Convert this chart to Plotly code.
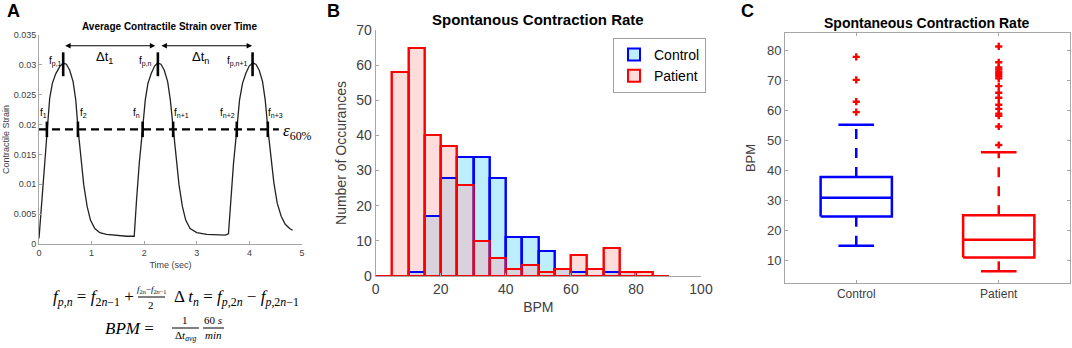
import plotly.graph_objects as go

# ---------------- Panel A data ----------------
time_s = [0, 0.044, 0.089, 0.152, 0.203, 0.254, 0.318, 0.394, 0.457, 0.521, 0.584, 0.648, 0.699, 0.743,
          0.794, 0.851, 0.915, 0.978, 1.061, 1.156, 1.283, 1.474, 1.665, 1.792,
          1.81, 1.855, 1.906, 1.969, 2.02, 2.071, 2.135, 2.198, 2.255, 2.319, 2.382, 2.446, 2.497, 2.554,
          2.605, 2.662, 2.726, 2.789, 2.872, 2.999, 3.189, 3.38, 3.539, 3.602,
          3.647, 3.698, 3.761, 3.812, 3.869, 3.933, 3.996, 4.06, 4.123, 4.187, 4.25, 4.301, 4.352,
          4.409, 4.466, 4.53, 4.606, 4.682, 4.765, 4.822]
strain = [0.00095, 0.00625, 0.0118, 0.0191, 0.0244, 0.0269, 0.0285, 0.0297, 0.0303, 0.0301, 0.0291, 0.0272, 0.0241, 0.0192,
          0.0146, 0.0099, 0.0063, 0.0040, 0.0026, 0.0019, 0.0016, 0.0014, 0.0013, 0.0013,
          0.0013, 0.0074, 0.0135, 0.0192, 0.0241, 0.0269, 0.0286, 0.0298, 0.0303, 0.0301, 0.0291, 0.0272, 0.0241, 0.0192,
          0.0146, 0.0099, 0.0063, 0.0040, 0.0026, 0.0019, 0.0016, 0.0015, 0.0015, 0.0017,
          0.0074, 0.0135, 0.0192, 0.0241, 0.0269, 0.0286, 0.0298, 0.0303, 0.0301, 0.0291, 0.0272, 0.0241, 0.0192,
          0.0146, 0.0102, 0.0068, 0.0046, 0.0033, 0.0026, 0.0023]
threshold = 0.0192
threshold_end = 4.56
crossing_times = [0.15, 0.74, 1.97, 2.55, 3.76, 4.35]
crossing_labels = ["f<sub>1</sub>", "f<sub>2</sub>", "f<sub>n</sub>", "f<sub>n+1</sub>", "f<sub>n+2</sub>", "f<sub>n+3</sub>"]
crossing_label_t = [0.08, 0.85, 1.86, 2.71, 3.59, 4.49]
peak_times = [0.46, 2.26, 4.06]
peak_labels = ["f<sub>p,1</sub>", "f<sub>p,n</sub>", "f<sub>p,n+1</sub>"]
peak_label_t = [0.32, 2.03, 3.77]
interval_starts = [0.47, 2.30]
interval_ends = [2.21, 4.05]
interval_labels = ["Δt<sub>1</sub>", "Δt<sub>n</sub>"]
interval_y = 0.0332

# ---------------- Panel B data ----------------
control_bin_left = [5, 10, 15, 20, 25, 30, 35, 40, 45, 50, 55, 60, 65, 70, 75, 80]
control_counts = [0, 1, 17, 28, 34, 34, 28, 11, 11, 7, 2, 1, 0, 1, 1, 0]
patient_bin_left = [0, 5, 10, 15, 20, 25, 30, 35, 40, 45, 50, 55, 60, 65, 70, 75, 80, 85]
patient_counts = [0, 58, 65, 40, 37, 26, 10, 5, 2, 3, 1, 2, 6, 2, 8, 1, 1, 0]
bin_width = 5

# ---------------- Panel C data ----------------
groups = ["Control", "Patient"]
q1 = [24.6, 10.8]
median = [30.8, 16.8]
q3 = [37.8, 25.0]
whisker_low = [14.8, 6.2]
whisker_high = [55.3, 46.1]
outliers = [
    [59.5, 63.0, 70.3, 78.0],
    [48.5, 54.7, 58.3, 59.0, 60.6, 62.0, 64.3, 66.0, 68.2, 70.8, 71.5, 72.3, 73.0, 73.8, 74.5, 76.2, 81.5],
]
group_colors = ["#0000ff", "#ff0000"]

FONT = "Liberation Sans, Arial, sans-serif"
SERIF = "Liberation Serif, DejaVu Serif, serif"
TICK = "#404040"
AXL = "#a6a6a6"


def px(x):
    return x / 1072


def py(y):
    return 1 - y / 348


fig = go.Figure()

# ---- Panel A traces ----
fig.add_trace(go.Scatter(x=time_s, y=strain, mode="lines", line=dict(color="#222222", width=1.3),
                         xaxis="x", yaxis="y", showlegend=False, hoverinfo="skip"))
fig.add_trace(go.Scatter(x=[0, threshold_end], y=[threshold, threshold], mode="lines",
                         line=dict(color="black", width=2.4, dash="8px,5px"),
                         xaxis="x", yaxis="y", showlegend=False, hoverinfo="skip"))
for t in crossing_times:
    fig.add_trace(go.Scatter(x=[t, t], y=[threshold - 0.0013, threshold + 0.0013], mode="lines",
                             line=dict(color="black", width=2.6), xaxis="x", yaxis="y",
                             showlegend=False, hoverinfo="skip"))
for t in peak_times:
    fig.add_trace(go.Scatter(x=[t, t], y=[0.0281, 0.0321], mode="lines",
                             line=dict(color="black", width=2.6), xaxis="x", yaxis="y",
                             showlegend=False, hoverinfo="skip"))

# ---- Panel B traces ----
c_centers = [b + bin_width / 2 for b in control_bin_left]
p_centers = [b + bin_width / 2 for b in patient_bin_left]
overlap = []
for b, c in zip(control_bin_left, control_counts):
    p = patient_counts[patient_bin_left.index(b)]
    overlap.append(min(c, p))

fig.add_trace(go.Bar(x=c_centers, y=control_counts, width=bin_width, name="Control",
                     marker=dict(color="#bdeefb", line=dict(color="#0000ff", width=2)),
                     xaxis="x2", yaxis="y2", showlegend=True))
fig.add_trace(go.Bar(x=p_centers, y=patient_counts, width=bin_width, name="Patient",
                     marker=dict(color="#fddcdc", line=dict(color="#ff0000", width=2)),
                     xaxis="x2", yaxis="y2", showlegend=True))
fig.add_trace(go.Bar(x=c_centers, y=overlap, width=bin_width, name="overlap",
                     marker=dict(color="#d8d2dc", line=dict(width=0)),
                     xaxis="x2", yaxis="y2", showlegend=False))
fig.add_trace(go.Bar(x=c_centers, y=control_counts, width=bin_width,
                     marker=dict(color="rgba(0,0,0,0)", line=dict(color="#0000ff", width=2)),
                     xaxis="x2", yaxis="y2", showlegend=False))
fig.add_trace(go.Bar(x=p_centers, y=patient_counts, width=bin_width,
                     marker=dict(color="rgba(0,0,0,0)", line=dict(color="#ff0000", width=2)),
                     xaxis="x2", yaxis="y2", showlegend=False))

# ---- Panel C traces ----
half_box = 0.25
half_cap = 0.125
for i, g in enumerate(groups):
    col = group_colors[i]
    fig.add_trace(go.Scatter(x=[i - half_box, i + half_box, i + half_box, i - half_box, i - half_box],
                             y=[q1[i], q1[i], q3[i], q3[i], q1[i]], mode="lines",
                             line=dict(color=col, width=2.5), xaxis="x3", yaxis="y3",
                             showlegend=False, hoverinfo="skip"))
    fig.add_trace(go.Scatter(x=[i - half_box, i + half_box], y=[median[i], median[i]], mode="lines",
                             line=dict(color=col, width=2.5), xaxis="x3", yaxis="y3",
                             showlegend=False, hoverinfo="skip"))
    fig.add_trace(go.Scatter(x=[i, i], y=[q3[i], whisker_high[i]], mode="lines",
                             line=dict(color=col, width=2.5, dash="10px,9px"), xaxis="x3", yaxis="y3",
                             showlegend=False, hoverinfo="skip"))
    fig.add_trace(go.Scatter(x=[i, i], y=[whisker_low[i], q1[i]], mode="lines",
                             line=dict(color=col, width=2.5, dash="10px,9px"), xaxis="x3", yaxis="y3",
                             showlegend=False, hoverinfo="skip"))
    for w in (whisker_low[i], whisker_high[i]):
        fig.add_trace(go.Scatter(x=[i - half_cap, i + half_cap], y=[w, w], mode="lines",
                                 line=dict(color=col, width=2.5), xaxis="x3", yaxis="y3",
                                 showlegend=False, hoverinfo="skip"))
    fig.add_trace(go.Scatter(x=[i] * len(outliers[i]), y=outliers[i], mode="markers",
                             marker=dict(symbol="cross", size=6, color="#ff0000"),
                             xaxis="x3", yaxis="y3", showlegend=False, hoverinfo="skip"))

# ---- annotations ----
ann = []
for lab, t in zip(peak_labels, peak_label_t):
    ann.append(dict(x=t, y=0.0306, xref="x", yref="y", text=lab, showarrow=False,
                    xanchor="center", yanchor="middle",
                    font=dict(size=10, color="black", family=FONT)))
for lab, t in zip(crossing_labels, crossing_label_t):
    ann.append(dict(x=t, y=0.0219, xref="x", yref="y", text=lab, showarrow=False,
                    xanchor="center", yanchor="middle",
                    font=dict(size=10, color="black", family=FONT)))
for s, e, lab in zip(interval_starts, interval_ends, interval_labels):
    ann.append(dict(x=e, y=interval_y, ax=s, ay=interval_y, xref="x", yref="y", axref="x", ayref="y",
                    text="", showarrow=True, arrowhead=2, arrowsize=0.9, arrowwidth=1.2,
                    arrowside="end+start", arrowcolor="black"))
    ann.append(dict(x=(s + e) / 2 - 0.1, y=0.0312, xref="x", yref="y", text=lab, showarrow=False,
                    xanchor="center", yanchor="middle",
                    font=dict(size=13, color="black", family=FONT)))
ann.append(dict(x=threshold_end + 0.05, y=0.0188, xref="x", yref="y", xanchor="left", yanchor="middle",
                text="<i>ε</i><sub>60%</sub>", showarrow=False,
                font=dict(size=17, color="black", family=SERIF)))


def paper_text(x, y, text, font, xanchor="center"):
    return dict(x=px(x), y=py(y), xref="paper", yref="paper", text=text, showarrow=False,
                xanchor=xanchor, yanchor="middle", font=font)


ann += [
    paper_text(13, 11, "<b>A</b>", dict(size=18, color="black", family=FONT)),
    paper_text(333, 11, "<b>B</b>", dict(size=18, color="black", family=FONT)),
    paper_text(747, 11, "<b>C</b>", dict(size=18, color="black", family=FONT)),
    paper_text(170, 27, "<b>Average Contractile Strain over Time</b>", dict(size=10, color="black", family=FONT)),
    paper_text(538, 19, "<b>Spontanous Contraction Rate</b>", dict(size=15, color="black", family=FONT)),
    paper_text(927, 23, "<b>Spontaneous Contraction Rate</b>", dict(size=14, color="black", family=FONT)),
]

EQ = dict(size=17, color="black", family=SERIF)
EQS = dict(size=11, color="black", family=SERIF)
EQN = dict(size=9, color="black", family=SERIF)
ann += [
    paper_text(136, 298, "<i>f</i><sub><i>p,n</i></sub>&nbsp;=&nbsp;<i>f</i><sub>2<i>n</i>−1</sub>&nbsp;+", EQ, "right"),
    paper_text(151, 289, "<i>f</i><sub>2<i>n</i></sub>−<i>f</i><sub>2<i>n</i>−1</sub>", EQN),
    paper_text(151, 305, "2", EQS),
    paper_text(172, 298, "Δ <i>t</i><sub><i>n</i></sub> = <i>f</i><sub><i>p</i>,2<i>n</i></sub> − <i>f</i><sub><i>p</i>,2<i>n</i>−1</sub>", EQ, "left"),
    paper_text(156, 328, "<i>BPM</i>&nbsp;=", EQ, "right"),
    paper_text(185, 320, "1", EQS),
    paper_text(185, 336, "Δ<i>t</i><sub><i>avg</i></sub>", EQS),
    paper_text(213, 320, "60 <i>s</i>", EQS),
    paper_text(213, 335, "<i>min</i>", EQS),
]

shapes = [
    dict(type="line", xref="paper", yref="paper", x0=px(138), x1=px(165),
         y0=py(297), y1=py(297), line=dict(color="black", width=1)),
    dict(type="line", xref="paper", yref="paper", x0=px(172), x1=px(199),
         y0=py(328), y1=py(328), line=dict(color="black", width=1)),
    dict(type="line", xref="paper", yref="paper", x0=px(203), x1=px(224),
         y0=py(328), y1=py(328), line=dict(color="black", width=1)),
]

axis_common = dict(showgrid=False, zeroline=False, showline=True, linecolor=AXL, linewidth=1,
                   ticks="inside", ticklen=3, tickcolor=AXL, automargin=False)

fig.update_layout(
    width=1072, height=348,
    margin=dict(l=0, r=0, t=0, b=0, autoexpand=False),
    paper_bgcolor="white", plot_bgcolor="white",
    font=dict(family=FONT, color=TICK),
    barmode="overlay", bargap=0,
    annotations=ann, shapes=shapes,
    legend=dict(x=px(613), y=py(38), xanchor="left", yanchor="top",
                bgcolor="white", bordercolor="#a0a0a0", borderwidth=1,
                font=dict(size=14, color="black", family=FONT),
                tracegroupgap=0, itemwidth=30),
    xaxis=dict(domain=[px(39), px(302)], range=[0, 5], tickvals=[0, 1, 2, 3, 4, 5],
               tickfont=dict(size=9, color=TICK), anchor="y",
               title=dict(text="Time (sec)", font=dict(size=9, color=TICK), standoff=4), **axis_common),
    yaxis=dict(domain=[py(244), py(35)], range=[0, 0.035],
               tickvals=[0, 0.005, 0.01, 0.015, 0.02, 0.025, 0.03, 0.035],
               ticktext=["0", "0.005", "0.01", "0.015", "0.02", "0.025", "0.03", "0.035"],
               tickfont=dict(size=9, color=TICK), anchor="x",
               title=dict(text="Contractile Strain", font=dict(size=9, color=TICK), standoff=2), **axis_common),
    xaxis2=dict(domain=[px(375.7), px(701)], range=[0, 100], tickvals=[0, 20, 40, 60, 80, 100],
                tickfont=dict(size=14, color=TICK), anchor="y2",
                title=dict(text="BPM", font=dict(size=14, color=TICK), standoff=6), **axis_common),
    yaxis2=dict(domain=[py(276), py(30)], range=[0, 70], tickvals=[0, 10, 20, 30, 40, 50, 60, 70],
                tickfont=dict(size=14, color=TICK), anchor="x2",
                title=dict(text="Number of Occurances", font=dict(size=14, color=TICK), standoff=6), **axis_common),
    xaxis3=dict(domain=[px(785), px(1070)], range=[-0.5, 1.5], tickvals=[0, 1], ticktext=groups,
                tickfont=dict(size=12, color=TICK), anchor="y3", mirror="ticks", **axis_common),
    yaxis3=dict(domain=[py(283), py(33)], range=[2.3, 86], tickvals=[10, 20, 30, 40, 50, 60, 70, 80],
                tickfont=dict(size=13, color=TICK), anchor="x3", mirror="ticks",
                title=dict(text="BPM", font=dict(size=13, color=TICK), standoff=8), **axis_common),
)

fig.write_html("out.html", config={"displayModeBar": False},
               post_script="document.body.style.margin='0';")
